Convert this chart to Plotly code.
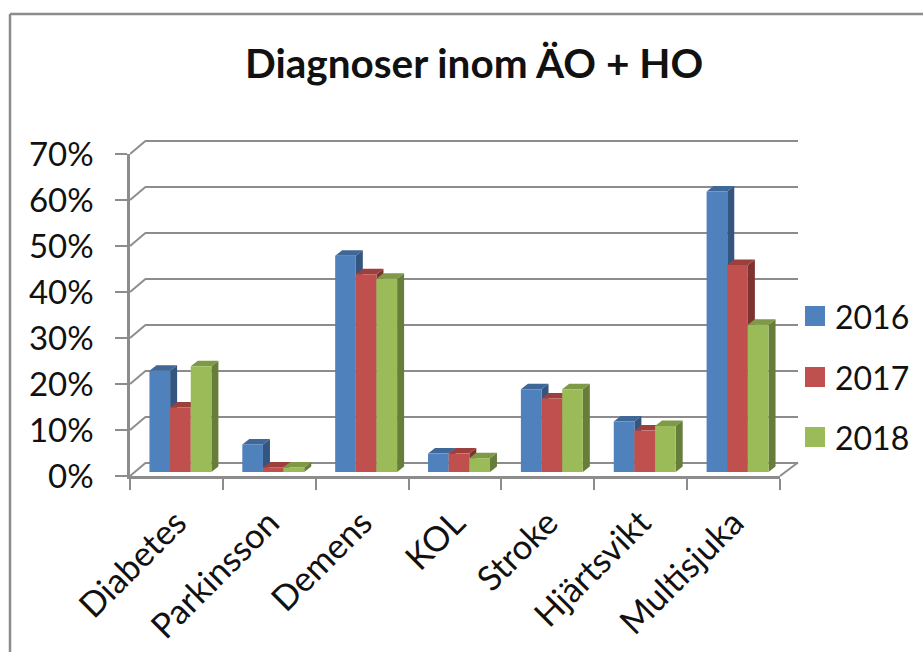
import plotly.graph_objects as go

CATEGORIES = ["Diabetes", "Parkinsson", "Demens", "KOL", "Stroke", "Hjärtsvikt", "Multisjuka"]
SERIES = ["2016", "2017", "2018"]
VALUES_2016 = [22, 6, 47, 4, 18, 11, 61]
VALUES_2017 = [14, 1, 43, 4, 16, 9, 45]
VALUES_2018 = [23, 1, 42, 3, 18, 10, 32]
Y_TICKS = [0, 10, 20, 30, 40, 50, 60, 70]
Y_LABELS = ["0%", "10%", "20%", "30%", "40%", "50%", "60%", "70%"]
TITLE = "Diagnoser inom ÄO + HO"

W, H = 923, 652
FONT = "Lato"
FRONT = ["#4F81BD", "#C0504D", "#9BBB59"]
TOP = ["#3F6797", "#9C403E", "#7E9A47"]
SIDE = ["#34557F", "#7F3331", "#667E3A"]
GRID = "#8C8C8C"
TXT = "#111111"

def px(x): return x / W
def py(y): return 1 - y / H

PX_PER_CAT = 650 / 7
PX_PER_PCT = 4.6
BAR_W = (1 - 0.333) / 3
DEPTH_X = 7 / PX_PER_CAT
DEPTH_Y = 5.5 / PX_PER_PCT

fig = go.Figure()

# Depth faces of the bars (subplot below the bars)
for s, vals in enumerate([VALUES_2016, VALUES_2017, VALUES_2018]):
    tx, ty, sx, sy = [], [], [], []
    for i, v in enumerate(vals):
        x0 = i - 1.5 * BAR_W + s * BAR_W
        x1 = x0 + BAR_W
        tx += [x0, x0 + DEPTH_X, x1 + DEPTH_X, x1, x0, None]
        ty += [v, v + DEPTH_Y, v + DEPTH_Y, v, v, None]
        sx += [x1, x1 + DEPTH_X, x1 + DEPTH_X, x1, x1, None]
        sy += [0, DEPTH_Y, v + DEPTH_Y, v, 0, None]
    fig.add_trace(go.Scatter(x=sx, y=sy, xaxis="x3", yaxis="y3", mode="lines", fill="toself",
                             fillcolor=SIDE[s], line=dict(width=0), showlegend=False, hoverinfo="skip"))
    fig.add_trace(go.Scatter(x=tx, y=ty, xaxis="x3", yaxis="y3", mode="lines", fill="toself",
                             fillcolor=TOP[s], line=dict(width=0), showlegend=False, hoverinfo="skip"))

# Front faces
for s, vals in enumerate([VALUES_2016, VALUES_2017, VALUES_2018]):
    fig.add_trace(go.Bar(x=list(range(len(CATEGORIES))), y=vals, name=SERIES[s], xaxis="x4", yaxis="y4",
                         marker=dict(color=FRONT[s], line=dict(width=0)), showlegend=False))

# Corner connectors between the front axes and the back wall (own roomy hidden axes)
DX = 16 / PX_PER_CAT
DY = 13.5 / PX_PER_PCT
cx, cy = [], []
for t in Y_TICKS:
    cx += [-0.5, -0.5 + DX, None]
    cy += [t, t + DY, None]
cx += [6.5, 6.5 + 18 / PX_PER_CAT, None]
cy += [0, DY, None]
fig.add_trace(go.Scatter(x=cx, y=cy, xaxis="x5", yaxis="y5", mode="lines", cliponaxis=False,
                         line=dict(color=GRID, width=2), showlegend=False, hoverinfo="skip"))

# Invisible traces so that the back-wall and front-axis subplots are drawn
for ax, ay in (("x", "y"), ("x2", "y2")):
    fig.add_trace(go.Scatter(x=[0], y=[0], xaxis=ax, yaxis=ay, mode="markers", marker=dict(opacity=0),
                             showlegend=False, hoverinfo="skip"))

hidden = dict(visible=False, range=[-0.5, 6.5], automargin=False)
hiddeny = dict(visible=False, range=[0, 70], automargin=False)

shapes = [
    dict(type="line", xref="paper", yref="paper", x0=px(10), x1=1, y0=py(14), y1=py(14), line=dict(color=GRID, width=2.5)),
    dict(type="line", xref="paper", yref="paper", x0=px(10), x1=px(10), y0=py(14), y1=0, line=dict(color=GRID, width=2.5)),
]
annotations = [dict(text="<b>%s</b>" % TITLE, x=px(474), y=py(62), xref="paper", yref="paper", showarrow=False,
                    xanchor="center", yanchor="middle", font=dict(family=FONT, size=40.5, color=TXT))]
LEG_Y = [316, 377, 437]
for s, name in enumerate(SERIES):
    shapes.append(dict(type="rect", xref="paper", yref="paper", x0=px(805), x1=px(825),
                       y0=py(LEG_Y[s] - 10), y1=py(LEG_Y[s] + 10), fillcolor=FRONT[s], line=dict(width=0)))
    annotations.append(dict(text=name, x=px(836), y=py(LEG_Y[s]), xref="paper", yref="paper", showarrow=False,
                            xanchor="left", yanchor="middle", xshift=-3, font=dict(family=FONT, size=32, color=TXT)))

fig.update_layout(
    width=W, height=H, margin=dict(l=0, r=0, t=0, b=0, pad=0), autosize=False,
    paper_bgcolor="white", plot_bgcolor="rgba(0,0,0,0)", showlegend=False,
    barmode="group", bargap=0.333, bargroupgap=0,
    shapes=shapes, annotations=annotations,
    # back wall: range runs slightly past 0-70 so the end gridlines are kept
    xaxis=dict(domain=[px(146), px(798)], range=[-0.5, 6.5], visible=False, anchor="y", automargin=False),
    yaxis=dict(domain=[py(462.5 + 0.5 * PX_PER_PCT), py(140.5 - 0.5 * PX_PER_PCT)], range=[-0.5, 70.5], anchor="x",
               tickvals=Y_TICKS, showgrid=True, automargin=False,
               gridcolor=GRID, gridwidth=2, showline=False, showticklabels=False, ticks="", zeroline=False),
    # front axes
    xaxis2=dict(domain=[px(130), px(780)], range=[-0.5, 6.5], anchor="y2", showgrid=False, zeroline=False,
                showline=True, linecolor=GRID, linewidth=2.5, automargin=False,
                tickmode="array", tickvals=list(range(len(CATEGORIES))), ticktext=CATEGORIES, tickangle=-45,
                ticks="", ticklabelstandoff=10, tickfont=dict(family=FONT, size=34.5, color=TXT),
                minor=dict(tickmode="array", tickvals=[i - 0.5 for i in range(len(CATEGORIES) + 1)],
                           ticks="outside", ticklen=11, tickcolor=GRID, tickwidth=2, showgrid=False)),
    yaxis2=dict(domain=[py(476), py(154)], range=[0, 70], anchor="x2", showgrid=False, zeroline=False,
                showline=True, linecolor=GRID, linewidth=2.5, automargin=False,
                tickmode="array", tickvals=Y_TICKS, ticktext=Y_LABELS,
                ticks="outside", ticklen=12, tickcolor=GRID, tickwidth=2, ticklabelstandoff=15,
                tickfont=dict(family=FONT, size=33, color=TXT)),
    # bar plane: depth faces
    xaxis3=dict(domain=[px(134), px(784)], anchor="y3", **hidden),
    yaxis3=dict(domain=[py(472), py(150)], anchor="x3", **hiddeny),
    # bar plane: front faces
    xaxis4=dict(domain=[px(134), px(784)], anchor="y4", **hidden),
    yaxis4=dict(domain=[py(472), py(150)], anchor="x4", **hiddeny),
    # connectors: same scale as the front axes, with room beyond them
    xaxis5=dict(domain=[px(130), px(130 + 7.5 * PX_PER_CAT)], range=[-0.5, 7.0], anchor="y5", visible=False, automargin=False),
    yaxis5=dict(domain=[py(476 + 2 * PX_PER_PCT), py(476 - 80 * PX_PER_PCT)], range=[-2, 80], anchor="x5", visible=False, automargin=False),
)

fig.write_html("out.html", config=dict(displayModeBar=False),
               post_script="document.body.style.margin='0';document.documentElement.style.overflow='hidden';")
